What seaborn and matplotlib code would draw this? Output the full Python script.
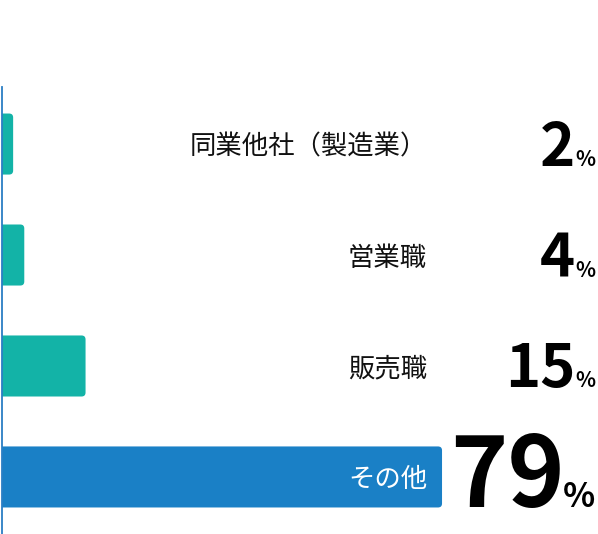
import matplotlib
matplotlib.use('Agg')
import matplotlib.pyplot as plt
import matplotlib.transforms as mtransforms
from matplotlib.patches import FancyBboxPatch
import seaborn as sns
import pandas as pd

# ---- data ----
categories = ['同業他社（製造業）', '営業職', '販売職', 'その他']
values = [2, 4, 15, 79]
value_labels = ['2', '4', '15', '79']
bar_colors = ['#13B3A7', '#13B3A7', '#13B3A7', '#1A80C6']
label_colors = ['#111111', '#111111', '#111111', '#ffffff']

sns.set_style('white')
plt.rcParams['font.family'] = ['Noto Sans CJK JP', 'DejaVu Sans']

W, H = 598, 534
fig = plt.figure(figsize=(W / 100, H / 100), dpi=100)
ax = fig.add_axes([2 / W, 0, 596 / W, 447 / H])

df = pd.DataFrame({'category': categories, 'value': values})
sns.barplot(data=df, x='value', y='category', hue='category',
            palette=bar_colors, legend=False, width=0.55, orient='h',
            saturation=1, ax=ax)

px_per_unit = 5.57
ax.set_xlim(0, 596 / px_per_unit)
ax.set_ylim(3.514, -0.514)

for s in ['top', 'right', 'bottom']:
    ax.spines[s].set_visible(False)
ax.spines['left'].set_color('#2B7EC4')
ax.spines['left'].set_linewidth(1.3)
ax.spines['left'].set_zorder(5)
ax.set_xticks([])
ax.set_yticks([])
ax.set_xlabel('')
ax.set_ylabel('')

# rounded bars
r = 4 / px_per_unit
asp = (1 / 111) / (1 / px_per_unit)
for p in list(ax.patches):
    x, y, w, h = p.get_x(), p.get_y(), p.get_width(), p.get_height()
    fc = p.get_facecolor()
    p.remove()
    fb = FancyBboxPatch((x - 2, y), w + 2, h,
                        boxstyle=f'round,pad=0,rounding_size={r}',
                        mutation_aspect=asp, fc=fc, ec='none', clip_on=True)
    ax.add_patch(fb)

trans = mtransforms.blended_transform_factory(ax.transAxes, ax.transData)

for i, cat in enumerate(categories):
    ax.text((427 - 2) / 596, i, cat, transform=trans, ha='right',
            va='center_baseline', fontsize=19, fontweight='normal',
            color=label_colors[i])

for i, lab in enumerate(value_labels):
    big = values[i] >= 50
    off = 30 if big else 21.5
    pct = ax.annotate('%', xy=((595 - 2) / 596, i), xycoords=trans,
                      xytext=(0, -off), textcoords='offset pixels',
                      ha='right', va='baseline',
                      fontsize=24 if big else 15, fontweight='bold',
                      color='black', annotation_clip=False)
    ax.annotate(lab, xy=(0, i), xycoords=(pct, ax.transData),
                xytext=(2 if big else 0, -off), textcoords='offset pixels',
                ha='right', va='baseline',
                fontsize=70 if big else 43, fontweight='bold',
                color='black', annotation_clip=False)

fig.savefig('out.png', dpi=100)
